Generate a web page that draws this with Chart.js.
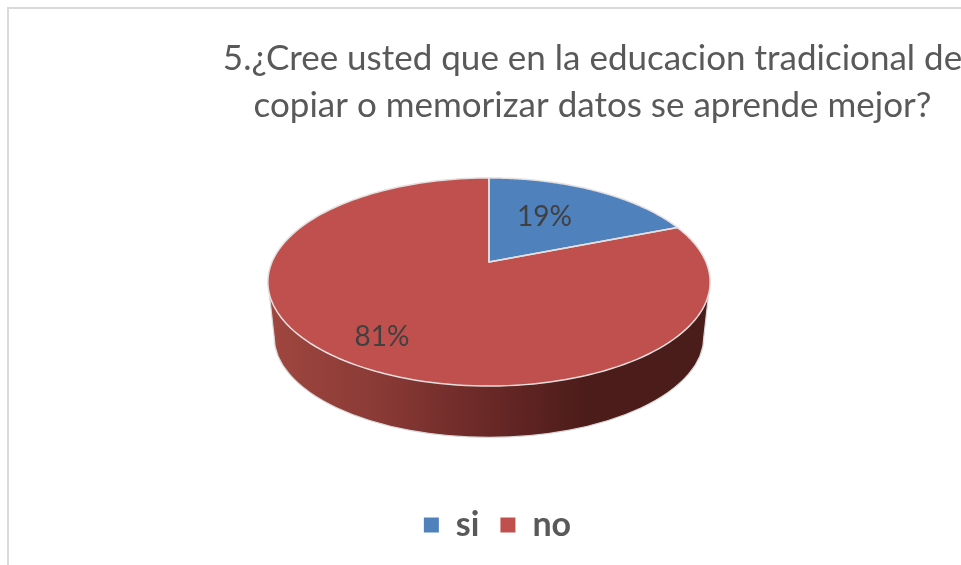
<!DOCTYPE html>
<html><head><meta charset="utf-8">
<style>html,body{margin:0;padding:0;background:#fff}canvas{display:block}</style>
<script src="https://cdn.jsdelivr.net/npm/chart.js@4"></script></head>
<body><canvas id="c" width="961" height="565" style="width:961px;height:565px"></canvas>
<script>
const categories = ['si', 'no'];
const seriesValues = [19, 81];
const sliceColors = ['#4f81bd', '#c0504d'];
const titleLines = ['5.¿Cree usted que en la educacion tradicional de', 'copiar o memorizar datos se aprende mejor?'];

const FONT = 'Lato, "Open Sans", sans-serif';
// perspective of the tilted disc, relative to the arc's radius
const K = 0.192, RX = 0.982, RY = 0.4534;
function project(el, angle, t) {
  const u = Math.cos(angle) * t, v = -Math.sin(angle) * t;
  const d = 1 + K * v, r = el.outerRadius;
  return { x: el.x + r * RX * u / d, y: el.y - r * RY * v / d };
}
function slicePath(ctx, el) {
  ctx.beginPath();
  ctx.moveTo(el.x, el.y);
  const n = 160;
  for (let i = 0; i <= n; i++) {
    const p = project(el, el.startAngle + (el.endAngle - el.startAngle) * i / n, 1);
    ctx.lineTo(p.x, p.y);
  }
  ctx.closePath();
}
const tiltedPie = {
  id: 'tiltedPie',
  afterLayout(chart) {
    const a = chart.chartArea;
    a.left = 268; a.right = 710; a.top = 41; a.bottom = 483; a.width = 442; a.height = 442;
    const t = chart.titleBlock; t.left += 112; t.right += 112;
    const l = chart.legend; l.left += 17; l.right += 17;
  },
  beforeDraw(chart) {
    const c = chart.ctx;
    c.save();
    c.strokeStyle = '#d9d9d9'; c.lineWidth = 2;
    c.beginPath(); c.moveTo(961, 8); c.lineTo(8, 8); c.lineTo(8, 565); c.stroke();
    c.restore();
  },
  beforeDatasetDraw(chart) {
    const c = chart.ctx, els = chart.getDatasetMeta(0).data, el = els[0];
    const r = el.outerRadius;
    // side wall
    const depthY = el.y + r * 0.339, hw = r * 0.972, hh = r * 0.4545, topY = el.y + r * 0.0905;
    const g = c.createLinearGradient(el.x - r, 0, el.x + r, 0);
    g.addColorStop(0, '#a0463f'); g.addColorStop(0.25, '#8a3a36');
    g.addColorStop(0.5, '#692826'); g.addColorStop(0.72, '#4c1c1a'); g.addColorStop(1, '#4a1c1a');
    c.save();
    c.beginPath();
    c.moveTo(el.x - r, topY);
    c.lineTo(el.x - hw, depthY);
    c.ellipse(el.x, depthY, hw, hh, 0, Math.PI, 0, true);
    c.lineTo(el.x + r, topY);
    c.closePath();
    c.fillStyle = g; c.fill();
    c.strokeStyle = '#d8d8d8'; c.lineWidth = 1.2; c.stroke();
    // top face
    els.forEach((e, i) => {
      slicePath(c, e);
      c.fillStyle = sliceColors[i]; c.fill();
    });
    els.forEach(e => {
      slicePath(c, e);
      c.strokeStyle = '#e6dfdf'; c.lineWidth = 1.5; c.lineJoin = 'round'; c.stroke();
    });
    c.restore();
    return false;
  },
  afterDatasetsDraw(chart) {
    const c = chart.ctx, els = chart.getDatasetMeta(0).data;
    const total = seriesValues.reduce((s, v) => s + v, 0);
    const reach = [0.49, 0.77], lift = [-7, 2];
    c.save();
    c.font = '28px ' + FONT; c.fillStyle = '#404040';
    c.textAlign = 'center'; c.textBaseline = 'middle';
    els.forEach((e, i) => {
      const p = project(e, (e.startAngle + e.endAngle) / 2, reach[i]);
      c.fillText(Math.round(seriesValues[i] / total * 100) + '%', p.x, p.y + lift[i]);
    });
    c.restore();
  }
};
new Chart(document.getElementById('c'), {
  type: 'pie',
  data: { labels: categories, datasets: [{ data: seriesValues, backgroundColor: sliceColors, borderWidth: 0 }] },
  plugins: [tiltedPie],
  options: {
    responsive: false, animation: false,
    layout: { padding: { bottom: 13 } },
    plugins: {
      tooltip: { enabled: false },
      title: { display: true, text: titleLines, color: '#595959',
        font: { family: FONT, size: 35, weight: 'normal', lineHeight: 1.34 }, padding: { top: 35, bottom: 10 } },
      legend: { position: 'bottom',
        labels: { color: '#595959', font: { family: FONT, size: 34, weight: 'bold' },
          boxWidth: 15, boxHeight: 15, padding: 21 } }
    }
  }
});
</script></body></html>
